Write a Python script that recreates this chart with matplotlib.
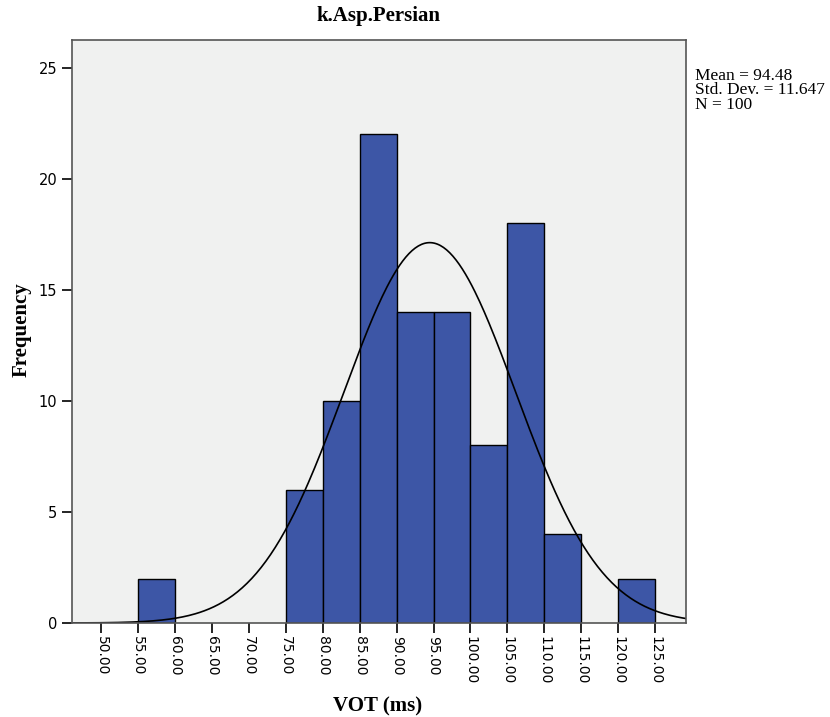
import numpy as np
import matplotlib
matplotlib.use("Agg")
import matplotlib.pyplot as plt

# Data
bin_edges = [55, 60, 65, 70, 75, 80, 85, 90, 95, 100, 105, 110, 115, 120, 125]
counts = [2, 0, 0, 0, 6, 10, 22, 14, 14, 8, 18, 4, 0, 2]
mean_val = 94.48
std_val = 11.647
n_val = 100
xticks = [50, 55, 60, 65, 70, 75, 80, 85, 90, 95, 100, 105, 110, 115, 120, 125]
yticks = [0, 5, 10, 15, 20, 25]

plt.rcParams['font.family'] = ['Liberation Serif', 'DejaVu Serif']

fig = plt.figure(figsize=(8.3, 7.17), dpi=100)
ax = fig.add_axes([0.0867, 0.1311, 0.8400 - 0.0867 - 0.0135, 0.9442 - 0.1311])
ax.set_facecolor('#F0F1F0')

lefts = bin_edges[:-1]
widths = np.diff(bin_edges)
for l, w, c in zip(lefts, widths, counts):
    if c > 0:
        ax.bar(l, c, width=w, align='edge', color='#3D56A6', edgecolor='black', linewidth=1.0)

xs = np.linspace(45, 130, 400)
binw = 5
ys = n_val * binw / (std_val * np.sqrt(2 * np.pi)) * np.exp(-0.5 * ((xs - mean_val) / std_val) ** 2)
ax.plot(xs, ys, color='black', linewidth=1.2)

ax.set_xlim(46.0, 129.2)
ax.set_ylim(0, 26.25)
ax.set_xticks(xticks)
ax.set_xticklabels([f"{t:.2f}" for t in xticks], rotation=270, fontsize=10, family=['DejaVu Sans'])
ax.set_yticks(yticks)
ax.set_yticklabels([str(t) for t in yticks], fontsize=10.5, family=['DejaVu Sans'])
ax.tick_params(axis='both', direction='out', length=7, width=1.2, color='black')
ax.tick_params(axis='x', pad=2)
for s in ax.spines.values():
    s.set_color('#555555')
    s.set_linewidth(1.2)

fig.text(378 / 830, 1 - 706 / 717, 'VOT (ms)', fontsize=15, fontweight='bold', ha='center', va='center')
fig.text(22 / 830, 1 - 330 / 717, 'Frequency', fontsize=15, fontweight='bold', ha='center', va='center', rotation=90)
fig.text(378 / 830, 1 - 16 / 717, 'k.Asp.Persian', fontsize=15, fontweight='bold', ha='center', va='center')

fig.text(0.837, 0.905, f"Mean = {mean_val}\nStd. Dev. = {std_val}\nN = {n_val}",
         fontsize=12.5, va='top', ha='left', linespacing=0.85)

fig.savefig('out.png', dpi=100)
